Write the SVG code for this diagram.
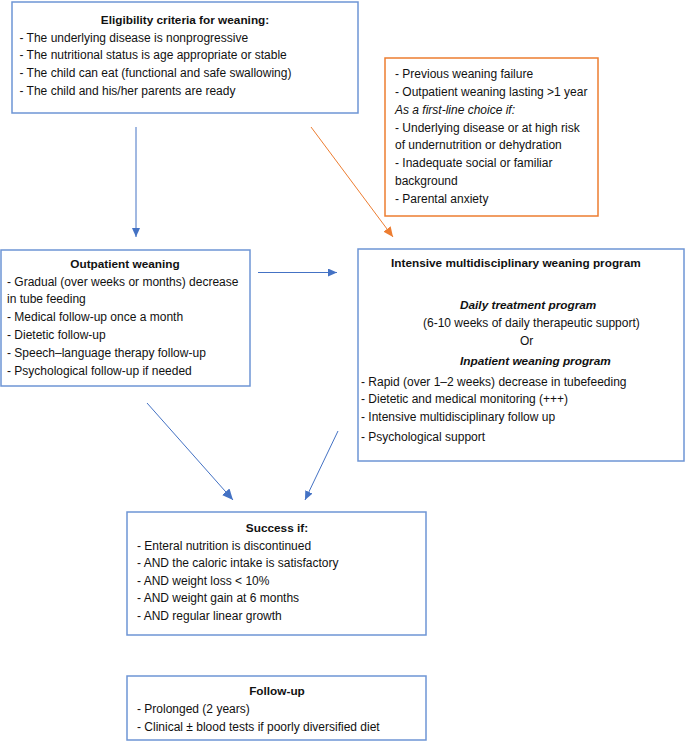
<svg xmlns="http://www.w3.org/2000/svg" width="685" height="744" viewBox="0 0 685 744">
<defs>
<style>
.box{fill:#fff;stroke:#6E95D5;stroke-width:1.5}
.obox{fill:#fff;stroke:#ED7D31;stroke-width:1.5}
text{font-family:"Liberation Sans",Arial,sans-serif;font-size:12px;fill:#111}
.b{font-weight:bold;font-size:11.8px}
.bi{font-weight:bold;font-style:italic;font-size:11.8px}
.i{font-style:italic}
.c{text-anchor:middle}
.ln{stroke:#4472C4;stroke-width:1;fill:none}
.lno{stroke:#ED7D31;stroke-width:1;fill:none}
</style>
<marker id="ab" markerUnits="userSpaceOnUse" markerWidth="10" markerHeight="8" refX="9" refY="4" orient="auto">
<path d="M0,0 L9,4 L0,8 z" fill="#4472C4"/>
</marker>
<marker id="abL" markerUnits="userSpaceOnUse" markerWidth="12" markerHeight="10" refX="11" refY="5" orient="auto">
<path d="M0,0 L11,5 L0,10 z" fill="#4472C4"/>
</marker>
<marker id="ao" markerUnits="userSpaceOnUse" markerWidth="11" markerHeight="9" refX="10" refY="4.5" orient="auto">
<path d="M0,0 L10,4.5 L0,9 z" fill="#ED7D31"/>
</marker>
</defs>
<rect width="685" height="744" fill="#fff"/>

<g id="connectors">
<line class="ln" x1="136" y1="127" x2="136" y2="237" marker-end="url(#ab)"/>
<line class="lno" x1="311" y1="127" x2="393" y2="237" marker-end="url(#ao)"/>
<line class="ln" x1="258" y1="272.5" x2="337" y2="272.5" marker-end="url(#ab)"/>
<line class="ln" x1="147" y1="403" x2="233" y2="500" stroke-width="1.5" marker-end="url(#abL)"/>
<line class="ln" x1="338" y1="431" x2="305" y2="500" marker-end="url(#ab)"/>
</g>

<g id="eligibility">
<rect class="box" x="12" y="2" width="346" height="111"/>
<text class="b c" x="185" y="24">Eligibility criteria for weaning:</text>
<text x="19.5" y="41.7">- The underlying disease is nonprogressive</text>
<text x="19.5" y="59.4">- The nutritional status is age appropriate or stable</text>
<text x="19.5" y="77.1">- The child can eat (functional and safe swallowing)</text>
<text x="19.5" y="94.8">- The child and his/her parents are ready</text>
</g>

<g id="indications">
<rect class="obox" x="385" y="58" width="213" height="158"/>
<text x="395" y="78">- Previous weaning failure</text>
<text x="395" y="96">- Outpatient weaning lasting &gt;1 year</text>
<text class="i" x="395" y="113.8">As a first-line choice if:</text>
<text x="395" y="131.6">- Underlying disease or at high risk</text>
<text x="395" y="149.4">of undernutrition or dehydration</text>
<text x="395" y="167.2">- Inadequate social or familiar</text>
<text x="395" y="185">background</text>
<text x="395" y="202.8">- Parental anxiety</text>
</g>

<g id="outpatient">
<rect class="box" x="1" y="250" width="249" height="136"/>
<text class="b c" x="125" y="268">Outpatient weaning</text>
<text x="7" y="285.5">- Gradual (over weeks or months) decrease</text>
<text x="7" y="303.3">in tube feeding</text>
<text x="7" y="321.1">- Medical follow-up once a month</text>
<text x="7" y="338.9">- Dietetic follow-up</text>
<text x="7" y="356.7">- Speech–language therapy follow-up</text>
<text x="7" y="374.5">- Psychological follow-up if needed</text>
</g>

<g id="intensive">
<rect class="box" x="358" y="249" width="326" height="212"/>
<text class="b" x="391" y="266.7">Intensive multidisciplinary weaning program</text>
<text class="bi" x="460" y="309">Daily treatment program</text>
<text x="423" y="326.7">(6-10 weeks of daily therapeutic support)</text>
<text x="520" y="344.5">Or</text>
<text class="bi" x="460" y="365">Inpatient weaning program</text>
<text x="361" y="385.7">- Rapid (over 1–2 weeks) decrease in tubefeeding</text>
<text x="361" y="403">- Dietetic and medical monitoring (+++)</text>
<text x="361" y="420.5">- Intensive multidisciplinary follow up</text>
<text x="361" y="441">- Psychological support</text>
</g>

<g id="success">
<rect class="box" x="127" y="512" width="299" height="123"/>
<text class="b c" x="277" y="532">Success if:</text>
<text x="137" y="549.6">- Enteral nutrition is discontinued</text>
<text x="137" y="567.2">- AND the caloric intake is satisfactory</text>
<text x="137" y="584.8">- AND weight loss &lt; 10%</text>
<text x="137" y="602.4">- AND weight gain at 6 months</text>
<text x="137" y="620">- AND regular linear growth</text>
</g>

<g id="followup">
<rect class="box" x="127" y="676" width="299" height="64"/>
<text class="b c" x="277" y="695">Follow-up</text>
<text x="137" y="713">- Prolonged (2 years)</text>
<text x="137" y="730.5">- Clinical ± blood tests if poorly diversified diet</text>
</g>
</svg>
